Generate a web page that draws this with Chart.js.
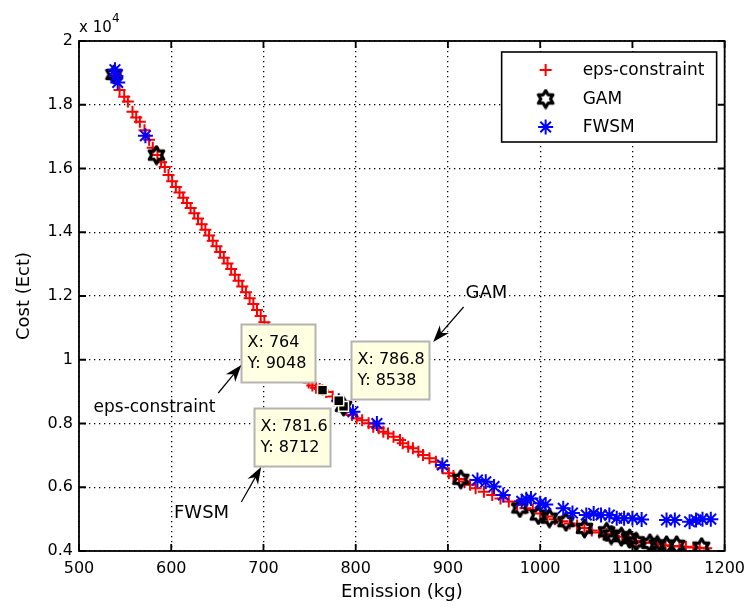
<!DOCTYPE html>
<html>
<head>
<meta charset="utf-8">
<script src="https://cdn.jsdelivr.net/npm/chart.js@4.4.1/dist/chart.umd.min.js"></script>
<style>
  html, body { margin: 0; padding: 0; background: #fff; }
  #wrap { width: 753px; height: 608px; }
</style>
</head>
<body>
<div id="wrap"><canvas id="paretoChart" width="753" height="608"></canvas></div>
<script>
// eps-constraint front (red +)
const epsEmission = [540, 544, 549, 553, 558, 562, 566, 571, 576, 580, 585, 589, 593, 597, 601, 605, 609, 613,
  617, 621, 625, 629, 633, 637, 641, 645, 649, 653, 657, 661, 665, 669, 673, 677, 681, 685, 689, 693, 697, 701,
  705, 710, 715, 720, 725, 730, 735, 740, 745, 749, 753, 757, 761, 764, 768, 775, 790, 796, 801, 807, 814, 819,
  825, 830, 835, 841, 848, 851, 857, 862, 868, 873, 880, 887, 894, 901, 906, 912, 918, 924, 930, 939, 948, 957,
  966, 975, 984, 992, 1000, 1008, 1016, 1024, 1032, 1040, 1048, 1056, 1064, 1072, 1080, 1089, 1096, 1104, 1112,
  1121, 1128, 1136, 1144, 1151, 1158, 1166, 1173, 1180];
const epsCost = [18950, 18460, 18250, 18100, 17780, 17600, 17470, 17200, 16900, 16650, 16420, 16200, 16050, 15800,
  15600, 15420, 15250, 15080, 14920, 14760, 14600, 14430, 14250, 14080, 13900, 13730, 13560, 13380, 13200, 13020,
  12850, 12670, 12480, 12300, 12120, 11930, 11750, 11560, 11370, 11180, 10990, 10790, 10590, 10390, 10200, 10010,
  9820, 9630, 9450, 9290, 9190, 9120, 9080, 9048, 8990, 8850, 8420, 8270, 8163, 8100, 8006, 7900, 7850, 7743,
  7690, 7586, 7483, 7379, 7272, 7222, 7116, 7012, 6910, 6802, 6600, 6440, 6350, 6260, 6180, 6080, 5970, 5860,
  5760, 5650, 5550, 5440, 5340, 5290, 5180, 5080, 5000, 4930, 4860, 4800, 4720, 4640, 4580, 4530, 4480, 4450,
  4380, 4310, 4270, 4260, 4210, 4180, 4160, 4140, 4130, 4110, 4100, 4090];

// GAM (black hexagram)
const gamEmission = [538, 584, 786.8, 914, 978, 998, 1010, 1028, 1048, 1072, 1077, 1088, 1097, 1104, 1119, 1127, 1137, 1148, 1175];
const gamCost = [18950, 16420, 8538, 6250, 5350, 5130, 5030, 4920, 4710, 4600, 4500, 4450, 4390, 4290, 4240, 4190, 4180, 4180, 4120];

// FWSM (blue *)
const fwsmEmission = [539, 540, 542, 572, 781.6, 797, 823, 894, 932, 941, 950, 960, 980, 985, 990, 1000, 1006, 1025,
  1035, 1050, 1058, 1066, 1075, 1083, 1091, 1100, 1110, 1137, 1146, 1162, 1169, 1176, 1185];
const fwsmCost = [19100, 18900, 18700, 17030, 8712, 8370, 8000, 6700, 6230, 6170, 6020, 5760, 5560, 5620, 5650, 5500,
  5460, 5340, 5190, 5130, 5180, 5130, 5130, 5030, 5030, 5030, 4990, 4970, 4970, 4920, 4970, 5000, 5000];

// data tips (GAM one first so it sits underneath)
const tipEmission = [786.8, 764, 781.6];
const tipCost = [8538, 9048, 8712];

const seriesNames = ['eps-constraint', 'GAM', 'FWSM'];
const xTicks = [500, 600, 700, 800, 900, 1000, 1100, 1200];
const yTicks = [4000, 6000, 8000, 10000, 12000, 14000, 16000, 18000, 20000];

const toPoints = (xs, ys) => xs.map((x, i) => ({ x: x, y: ys[i] }));

function hexagram(size, color, lw) {
  const c = document.createElement('canvas');
  c.width = c.height = size;
  const g = c.getContext('2d');
  const R = size / 2 - lw / 2 - 0.5, r = R / Math.sqrt(3);
  g.beginPath();
  for (let i = 0; i < 12; i++) {
    const a = -Math.PI / 2 + i * Math.PI / 6;
    const rad = i % 2 ? r : R;
    g.lineTo(size / 2 + rad * Math.cos(a), size / 2 + rad * Math.sin(a));
  }
  g.closePath();
  g.strokeStyle = color;
  g.lineWidth = lw;
  g.lineJoin = 'round';
  g.stroke();
  return c;
}
const hexMarker = hexagram(21, '#000', 3.2);

const FONT = 'DejaVu Sans';
Chart.defaults.font.family = FONT;
Chart.defaults.color = '#000';

// annotations placed in data units
const notes = [
  { text: 'eps-constraint', size: 17, x: 581.8, y: 8486, align: 'center', from: [651, 8957], to: [676, 9835] },
  { text: 'FWSM', size: 18, x: 603, y: 5192, align: 'left', from: [676, 5537], to: [697.5, 6635] },
  { text: 'GAM', size: 18, x: 919, y: 12094, align: 'left', from: [917, 11655], to: [884, 10557] }
];
// data tip boxes, pixel offsets from their point (same order as tip arrays)
const tipBoxes = [
  { dx: 7, dy: -65, w: 78, h: 58 },
  { dx: -81, dy: -66, w: 74, h: 58 },
  { dx: -85, dy: 7, w: 76, h: 58 }
];

function arrow(ctx, x1, y1, x2, y2) {
  const a = Math.atan2(y2 - y1, x2 - x1);
  const L = 17, W = 6;
  const c = Math.cos(a), s = Math.sin(a);
  ctx.beginPath();
  ctx.moveTo(x1, y1);
  ctx.lineTo(x2 - L * 0.6 * c, y2 - L * 0.6 * s);
  ctx.stroke();
  ctx.beginPath();
  ctx.moveTo(x2, y2);
  ctx.lineTo(x2 - L * c + W * s, y2 - L * s - W * c);
  ctx.lineTo(x2 - L * 0.7 * c, y2 - L * 0.7 * s);
  ctx.lineTo(x2 - L * c - W * s, y2 - L * s + W * c);
  ctx.closePath();
  ctx.fill();
}

const matlabLook = {
  id: 'matlabLook',
  afterDatasetsDraw(chart) {
    const { ctx, scales: { x, y } } = chart;
    ctx.save();
    // data tip boxes
    tipEmission.forEach((e, i) => {
      const px = x.getPixelForValue(e), py = y.getPixelForValue(tipCost[i]);
      const b = tipBoxes[i];
      const bx = Math.round(px + b.dx) + 0.5, by = Math.round(py + b.dy) + 0.5;
      ctx.fillStyle = '#ffffe1';
      ctx.strokeStyle = '#b4b4b4';
      ctx.lineWidth = 2;
      ctx.fillRect(bx, by, b.w, b.h);
      ctx.strokeRect(bx, by, b.w, b.h);
      ctx.fillStyle = '#000';
      ctx.font = '16px ' + FONT;
      ctx.textAlign = 'left';
      ctx.textBaseline = 'middle';
      ctx.fillText('X: ' + e, bx + 6, by + 18);
      ctx.fillText('Y: ' + tipCost[i], bx + 6, by + 39);
    });
    // text notes with arrows
    ctx.fillStyle = '#000';
    ctx.strokeStyle = '#000';
    ctx.lineWidth = 1.2;
    notes.forEach(n => {
      ctx.font = n.size + 'px ' + FONT;
      ctx.textAlign = n.align;
      ctx.textBaseline = 'middle';
      ctx.fillText(n.text, x.getPixelForValue(n.x), y.getPixelForValue(n.y));
      arrow(ctx, x.getPixelForValue(n.from[0]), y.getPixelForValue(n.from[1]),
        x.getPixelForValue(n.to[0]), y.getPixelForValue(n.to[1]));
    });
    ctx.restore();
  },
  afterDraw(chart) {
    const { ctx, chartArea: a, scales: { x, y } } = chart;
    ctx.save();
    // box and inward ticks
    ctx.strokeStyle = '#000';
    ctx.lineWidth = 1.8;
    ctx.strokeRect(a.left, a.top, a.right - a.left, a.bottom - a.top);
    const tk = 7;
    ctx.beginPath();
    xTicks.forEach(v => {
      const p = x.getPixelForValue(v);
      ctx.moveTo(p, a.bottom); ctx.lineTo(p, a.bottom - tk);
      ctx.moveTo(p, a.top); ctx.lineTo(p, a.top + tk);
    });
    yTicks.forEach(v => {
      const p = y.getPixelForValue(v);
      ctx.moveTo(a.left, p); ctx.lineTo(a.left + tk, p);
      ctx.moveTo(a.right, p); ctx.lineTo(a.right - tk, p);
    });
    ctx.stroke();
    // exponent label
    ctx.fillStyle = '#000';
    ctx.textAlign = 'left';
    ctx.textBaseline = 'alphabetic';
    ctx.font = '15px ' + FONT;
    ctx.fillText('x 10', a.left, a.top - 9);
    ctx.font = '12px ' + FONT;
    ctx.fillText('4', a.left + 33, a.top - 19);
    // legend
    const lw = 215, lh = 90;
    const lx = a.right - 8 - lw, ly = a.top + 11;
    ctx.fillStyle = '#fff';
    ctx.fillRect(lx, ly, lw, lh);
    ctx.lineWidth = 1.6;
    ctx.strokeRect(lx, ly, lw, lh);
    const rows = [18, 47, 75];
    chart.data.datasets.slice(0, 3).forEach((ds, i) => {
      const cy = ly + rows[i];
      ctx.strokeStyle = ds.borderColor;
      ctx.fillStyle = ds.borderColor;
      ctx.lineWidth = ds.borderWidth;
      Chart.helpers.drawPoint(ctx, {
        pointStyle: ds.pointStyle, radius: ds.pointRadius, borderWidth: ds.borderWidth, rotation: 0
      }, lx + 44, cy);
      ctx.fillStyle = '#000';
      ctx.font = '17px ' + FONT;
      ctx.textBaseline = 'middle';
      ctx.fillText(seriesNames[i], lx + 81, cy + 1);
    });
    ctx.restore();
  }
};

new Chart(document.getElementById('paretoChart'), {
  type: 'scatter',
  data: {
    datasets: [
      { label: seriesNames[0], data: toPoints(epsEmission, epsCost), pointStyle: 'cross', pointRadius: 6,
        borderColor: '#ff0000', backgroundColor: '#ff0000', borderWidth: 2, order: 3 },
      { label: seriesNames[1], data: toPoints(gamEmission, gamCost), pointStyle: hexMarker, pointRadius: 10,
        borderColor: '#000000', backgroundColor: '#000000', borderWidth: 3, order: 2 },
      { label: seriesNames[2], data: toPoints(fwsmEmission, fwsmCost), pointStyle: 'star', pointRadius: 7.5,
        borderColor: '#0000ff', backgroundColor: '#0000ff', borderWidth: 2, order: 1 },
      { label: 'tips', data: toPoints(tipEmission, tipCost), pointStyle: 'rect', pointRadius: 7,
        borderColor: '#fffbe0', backgroundColor: '#000000', borderWidth: 1.5, order: 0 }
    ]
  },
  options: {
    responsive: false,
    animation: false,
    devicePixelRatio: 1,
    events: [],
    layout: { padding: { left: 0, right: 21, top: 41, bottom: 0 } },
    plugins: { legend: { display: false }, tooltip: { enabled: false } },
    scales: {
      x: {
        type: 'linear', min: 500, max: 1200,
        afterFit: s => { s.height = 57; },
        afterBuildTicks: s => { s.ticks = xTicks.map(v => ({ value: v })); },
        ticks: { font: { size: 16 }, padding: 8, maxRotation: 0, autoSkip: false, callback: v => String(v) },
        grid: { color: '#000', lineWidth: 1.3, drawTicks: false },
        border: { display: false, dash: [1.3, 3.7] },
        title: { display: true, text: 'Emission (kg)', font: { size: 18 }, padding: { top: 0, bottom: 5 } }
      },
      y: {
        type: 'linear', min: 4000, max: 20000,
        afterFit: s => { s.width = 79; },
        afterBuildTicks: s => { s.ticks = yTicks.map(v => ({ value: v })); },
        ticks: { font: { size: 16 }, padding: 6, callback: v => String(v / 10000) },
        grid: { color: '#000', lineWidth: 1.3, drawTicks: false },
        border: { display: false, dash: [1.3, 3.7] },
        title: { display: true, text: 'Cost (Ect)', font: { size: 18 }, padding: { top: 14, bottom: 0 } }
      }
    }
  },
  plugins: [matlabLook]
});
</script>
</body>
</html>
